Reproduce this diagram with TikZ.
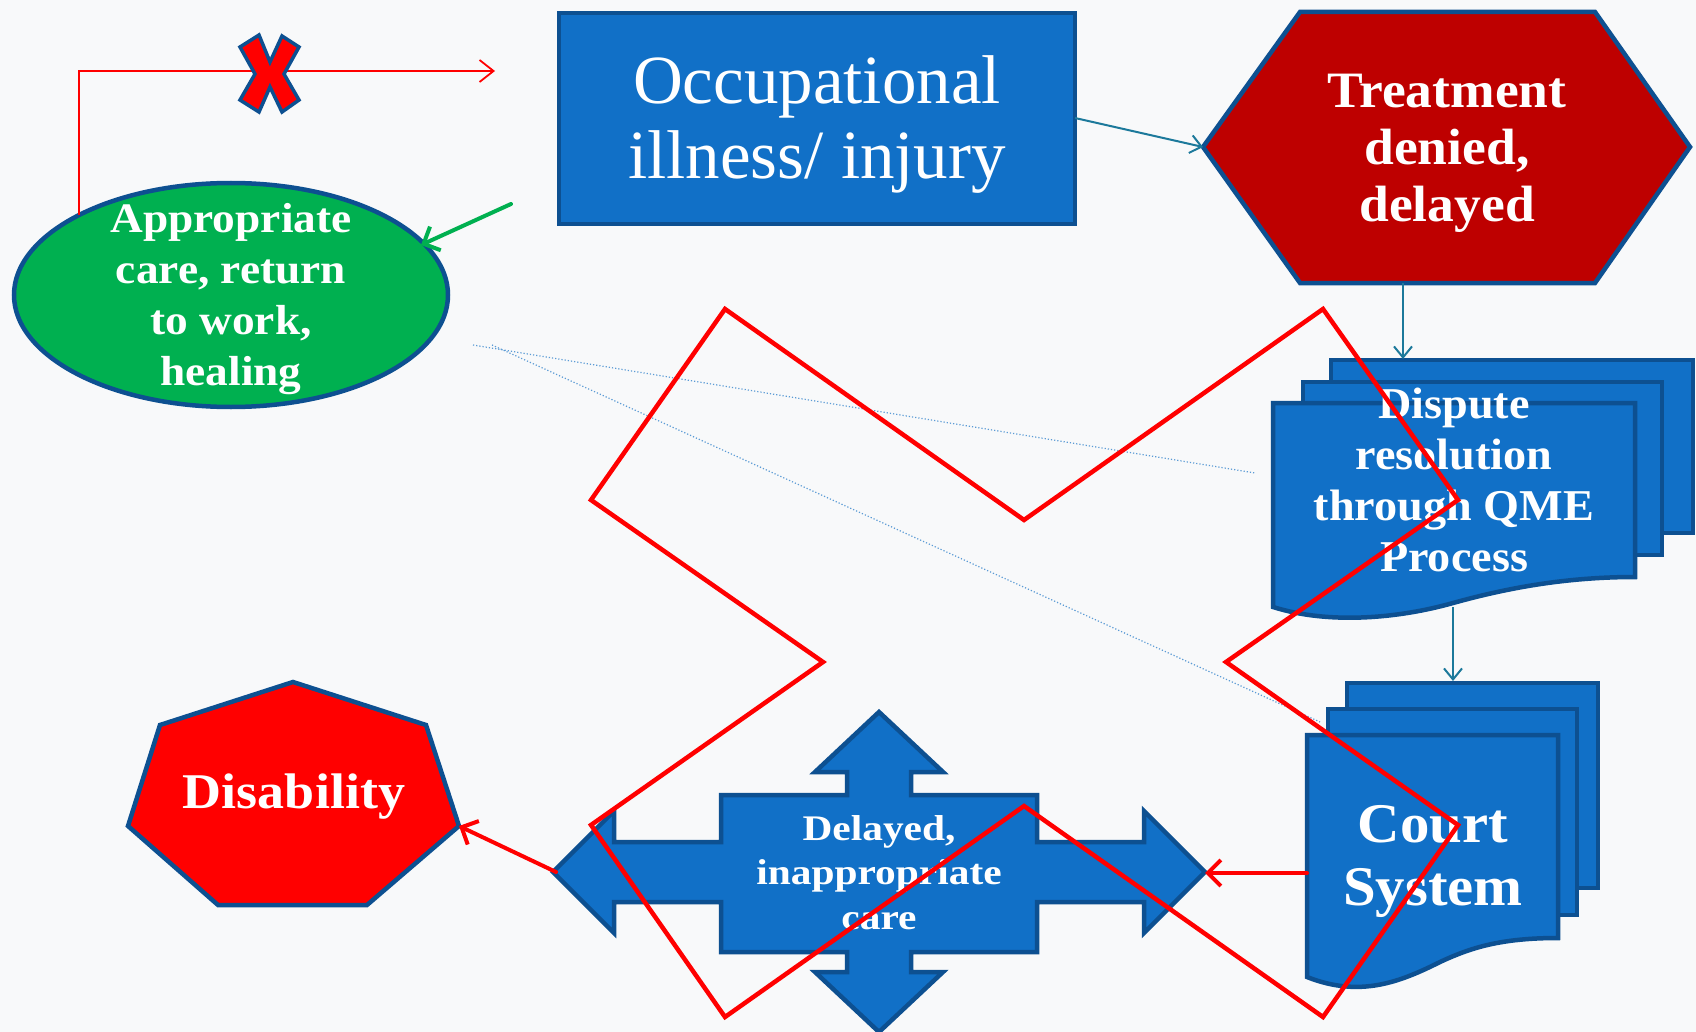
\documentclass[tikz,border=0pt]{standalone}
\usepackage{fontspec}
\setmainfont{Liberation Serif}
\newfontfamily\stretchA[FakeStretch=1.05]{Liberation Serif}
\newfontfamily\stretchB[FakeStretch=1.08]{Liberation Serif}
\newfontfamily\stretchC[FakeStretch=1.15]{Liberation Serif}
\usetikzlibrary{arrows.meta}
\definecolor{bgc}{RGB}{248,249,250}
\definecolor{boxblue}{RGB}{17,112,199}
\definecolor{edgeblue}{RGB}{13,80,145}
\definecolor{okgreen}{RGB}{0,176,80}
\definecolor{darkred}{RGB}{190,0,0}
\definecolor{brightred}{RGB}{255,0,0}
\definecolor{teal}{RGB}{28,121,155}
\definecolor{dotblue}{RGB}{91,155,213}
\begin{document}
\begin{tikzpicture}[x=1pt,y=-1pt,
  shapeline/.style={draw=edgeblue, line width=4.5pt, line join=miter},
  txt/.style={text=white, align=center, inner sep=0pt},
  tealarrow/.style={draw=teal, line width=2pt, -{Straight Barb[length=11pt,width=18pt]}},
  thinred/.style={draw=brightred, line width=1.8pt, -{Straight Barb[length=14pt,width=22pt]}},
  thickred/.style={draw=brightred, line width=4pt, line cap=round, -{Straight Barb[length=13pt,width=26pt]}},
  thickgreen/.style={draw=okgreen, line width=4pt, line cap=round, -{Straight Barb[length=13pt,width=26pt]}},
  dotline/.style={draw=dotblue, line width=1.2pt, dotted},
  bigx/.style={draw=brightred, line width=4.5pt, line join=miter}
]
\useasboundingbox (0,0) rectangle (1696,1032);
\fill[bgc] (0,0) rectangle (1696,1032);

% named coordinates
\coordinate (occE) at (1075,118);
\coordinate (treatL) at (1203,147);
\coordinate (treatB) at (1403,283);
\coordinate (dispT) at (1403,359);
\coordinate (dispB) at (1453,607);
\coordinate (courtT) at (1453,681);
\coordinate (courtL) at (1307,873);
\coordinate (quadR) at (1205,873);
\coordinate (quadL) at (556,872);
\coordinate (disabR) at (459,826);
\coordinate (apTL) at (79,215);
\coordinate (loopC) at (79,71);
\coordinate (loopEnd) at (495,71);
\coordinate (greenStart) at (511,204);
\coordinate (apNE) at (421,245);
\coordinate (dotA1) at (473,345);
\coordinate (dotA2) at (1255,473);
\coordinate (dotB1) at (492,345);
\coordinate (dotB2) at (1320,722);

% dotted lines
\draw[dotline] (dotA1) -- (dotA2);
\draw[dotline] (dotB1) -- (dotB2);

% Occupational box
\draw[shapeline, fill=boxblue] (559,13) rectangle (1075,224);
\node[txt, font=\fontsize{69}{75}\selectfont] (occ) at (817,124.5) {Occupational\\illness/ injury};

% Treatment hexagon
\draw[shapeline, fill=darkred] (1203,147) -- (1300,12) -- (1595,12) -- (1690,147) -- (1595,283) -- (1300,283) -- cycle;
\node[txt, font=\stretchA\bfseries\fontsize{51}{57}\selectfont] (treat) at (1447,153.5) {Treatment\\denied,\\delayed};

% Appropriate ellipse
\draw[shapeline, fill=okgreen] (231,295) ellipse [x radius=217pt, y radius=112pt];
\node[txt, font=\stretchB\bfseries\fontsize{42}{51}\selectfont] (approp) at (231,299.5) {Appropriate\\care, return\\to work,\\healing};

% Dispute multidocument
\draw[shapeline, fill=boxblue] (1331,360) rectangle (1693,533);
\draw[shapeline, fill=boxblue] (1303,382) rectangle (1662,555);
\draw[shapeline, fill=boxblue] (1273,607) -- (1273,403) -- (1635,403) -- (1635,577)
  .. controls (1560,577) and (1500,590) .. (1453,603)
  .. controls (1400,618) and (1330,625) .. (1273,607) -- cycle;
\node[txt, font=\stretchA\bfseries\fontsize{44}{51}\selectfont] (dispute) at (1454,479.5) {Dispute\\resolution\\through QME\\Process};

% Court multidocument
\draw[shapeline, fill=boxblue] (1347,683) rectangle (1598,888);
\draw[shapeline, fill=boxblue] (1328,709) rectangle (1577,915);
\draw[shapeline, fill=boxblue] (1307,977) -- (1307,735) -- (1558,735) -- (1558,938)
  .. controls (1500,938) and (1470,948) .. (1440,962)
  .. controls (1400,982) and (1360,998) .. (1307,977) -- cycle;
\node[txt, font=\stretchA\bfseries\fontsize{56}{63}\selectfont] (court) at (1433,861.5) {Court\\System};

% Quad arrow
\draw[shapeline, fill=boxblue] (553,872) -- (614,811) -- (614,842) -- (721,842) -- (721,795)
  -- (847,795) -- (847,772) -- (815,772) -- (879,712) -- (943,772) -- (911,772) -- (911,795)
  -- (1037,795) -- (1037,842) -- (1144,842) -- (1144,811) -- (1205,872) -- (1144,933)
  -- (1144,902) -- (1037,902) -- (1037,952) -- (911,952) -- (911,972) -- (943,972)
  -- (879,1032) -- (815,972) -- (847,972) -- (847,952) -- (721,952) -- (721,902)
  -- (614,902) -- (614,933) -- cycle;
\node[txt, font=\stretchC\bfseries\fontsize{36}{44.5}\selectfont] (delayed) at (879,872.4) {Delayed,\\inappropriate\\care};

% Disability heptagon
\draw[shapeline, fill=brightred] (293,682) -- (426,725) -- (459,826) -- (367,905) -- (218,905) -- (128,826) -- (160,725) -- cycle;
\node[txt, font=\stretchB\bfseries\fontsize{50}{57}\selectfont] (disab) at (294,796.5) {Disability};

% connectors
\draw[tealarrow] (occE) -- (treatL);
\draw[tealarrow] (treatB) -- (dispT);
\draw[tealarrow] (dispB) -- (courtT);
\draw[thickred] (courtL) -- (quadR);
\draw[thickred] (quadL) -- (disabR);
\draw[thickgreen] (greenStart) -- (apNE);
\draw[thinred] (apTL) -- (loopC) -- (loopEnd);

% X mark
\draw[draw=edgeblue, line width=3.5pt, fill=brightred, line join=miter]
  (240,47) -- (259,35) -- (270,62) -- (282,36) -- (299,47) -- (284,74) -- (299,100)
  -- (282,112) -- (270,87) -- (259,112) -- (240,100) -- (255,74) -- cycle;

% big red X outline
\draw[bigx] (725,309) -- (1024,520) -- (1323,309) -- (1458,500) -- (1226,662) -- (1458,825)
  -- (1323,1017) -- (1024,806) -- (725,1017) -- (591,825) -- (823,662) -- (591,500) -- cycle;
\end{tikzpicture}
\end{document}
